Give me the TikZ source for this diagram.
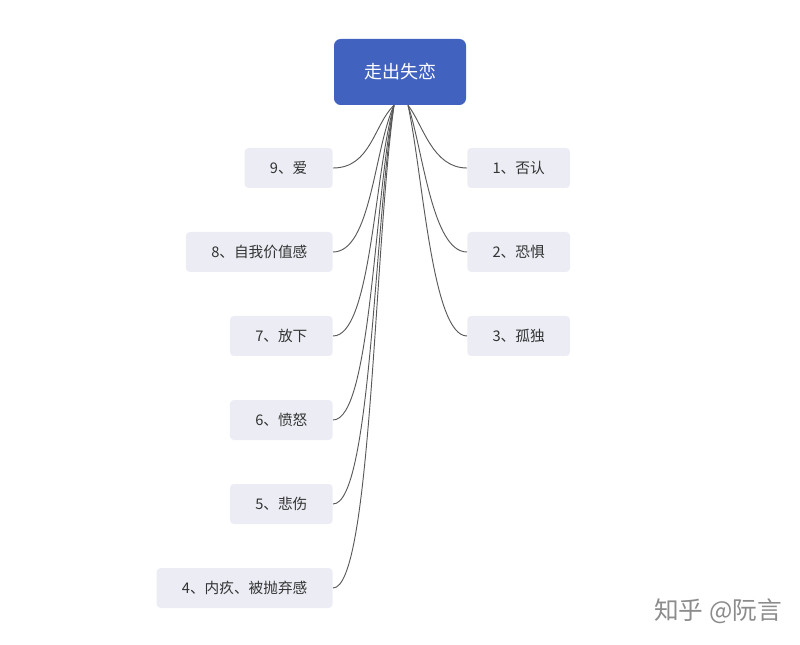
\documentclass[tikz,border=0pt]{standalone}
\usepackage{fontspec}
\setmainfont{Noto Sans CJK SC}
\usetikzlibrary{calc}
\definecolor{rootblue}{HTML}{4262C0}
\definecolor{leafgray}{HTML}{EBECF4}
\definecolor{textgray}{HTML}{333333}

\begin{document}
\begin{tikzpicture}[
    x=0.75pt, y=-0.75pt,
    root/.style={
        rectangle, fill=rootblue, rounded corners=5pt,
        minimum width=99pt, minimum height=49.5pt,
        text=white, font=\fontsize{13.5}{16}\selectfont
    },
    leaf/.style={
        rectangle, fill=leafgray, rounded corners=3pt,
        minimum height=30pt, inner xsep=19pt,
        text=textgray, font=\fontsize{11}{13}\selectfont
    },
    link/.style={draw=black!65, line width=0.7pt}
]
    \useasboundingbox (0,0) rectangle (800,645);
    \node[root] (root) at (400,72) {走出失恋};
    % left branches
    \foreach \name/\txt/\y in {l9/9、爱/168, l8/8、自我价值感/252, l7/7、放下/336,
                               l6/6、愤怒/420, l5/5、悲伤/504, l4/4、内疚、被抛弃感/588}{
        \node[leaf, anchor=east] (\name) at (333,\y) {\txt};
        \draw[link] ($(root.south)+(-6,0)$)
            .. controls ($(root.south)+(-26,{0.3*(\y-105)})$) and ($(\name.east)+(38,0)$)
            .. (\name.east);
    }
    % right branches
    \foreach \name/\txt/\y in {r1/1、否认/168, r2/2、恐惧/252, r3/3、孤独/336}{
        \node[leaf, anchor=west] (\name) at (467,\y) {\txt};
        \draw[link] ($(root.south)+(8,0)$)
            .. controls ($(root.south)+(23,{0.3*(\y-105)})$) and ($(\name.west)+(-35,0)$)
            .. (\name.west);
    }
    \node[text=black!45, font=\fontsize{18.5}{20}\selectfont] (watermark) at (718,611) {知乎 @阮言};
\end{tikzpicture}
\end{document}
